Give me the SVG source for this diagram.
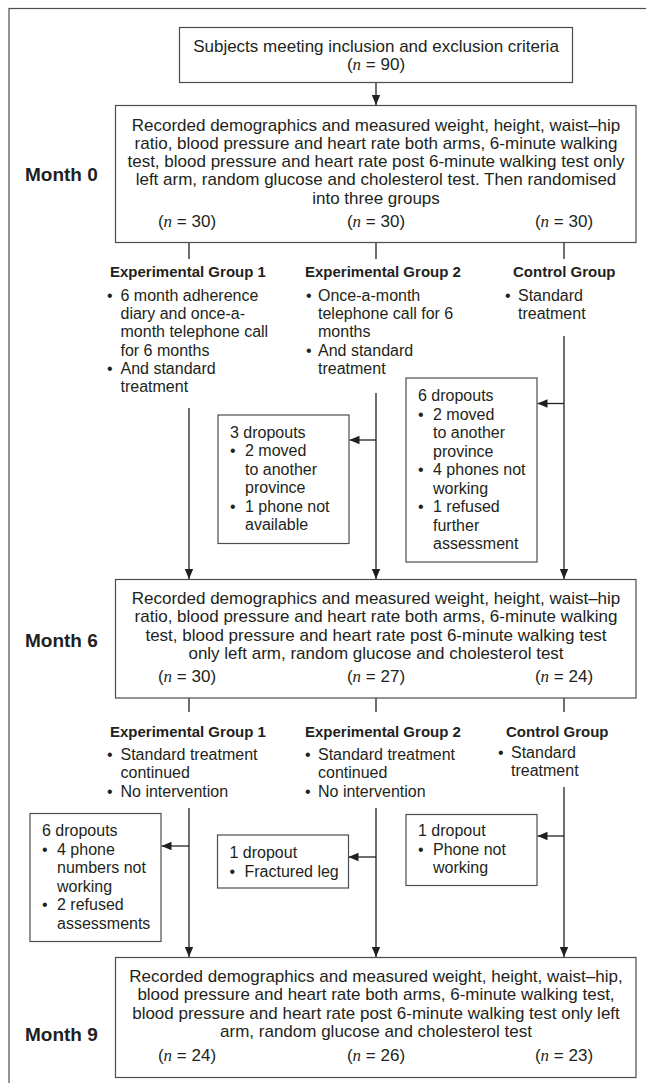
<svg xmlns="http://www.w3.org/2000/svg" width="646" height="1083" viewBox="0 0 646 1083">
<defs>
<style>
text{font-family:"Liberation Sans",Arial,sans-serif;font-size:16px;fill:#231f20}
.c{text-anchor:middle;font-size:17px}
.b{font-weight:bold;font-size:15px}
.m{font-weight:bold;font-size:19px}
.box{fill:#fff;stroke:#4d4d4d;stroke-width:1.2}
.ln{fill:none;stroke:#231f20;stroke-width:1.3}
.i{font-family:"Liberation Serif",serif;font-style:italic}
</style>
<marker id="ah" markerUnits="userSpaceOnUse" markerWidth="10" markerHeight="10" viewBox="0 0 10 10" refX="10" refY="5" orient="auto">
<path d="M0,0.8 L10,5 L0,9.2 Z" fill="#231f20"/>
</marker>
</defs>
<rect x="9" y="8.5" width="660" height="1100" fill="none" stroke="#4d4d4d" stroke-width="1.2"/>

<g id="connectors">
<line class="ln" x1="376" y1="82.5" x2="376" y2="105" marker-end="url(#ah)"/>
<line class="ln" x1="189" y1="242.5" x2="189" y2="259"/>
<line class="ln" x1="376" y1="242.5" x2="376" y2="259"/>
<line class="ln" x1="564" y1="242.5" x2="564" y2="259"/>
<line class="ln" x1="189" y1="408" x2="189" y2="579" marker-end="url(#ah)"/>
<line class="ln" x1="376" y1="393" x2="376" y2="579" marker-end="url(#ah)"/>
<line class="ln" x1="564" y1="336" x2="564" y2="579" marker-end="url(#ah)"/>
<line class="ln" x1="376" y1="440" x2="349.5" y2="440" marker-end="url(#ah)"/>
<line class="ln" x1="564" y1="403.5" x2="537.5" y2="403.5" marker-end="url(#ah)"/>
<line class="ln" x1="189" y1="698" x2="189" y2="712"/>
<line class="ln" x1="376" y1="698" x2="376" y2="712"/>
<line class="ln" x1="564" y1="698" x2="564" y2="712"/>
<line class="ln" x1="189" y1="808" x2="189" y2="957" marker-end="url(#ah)"/>
<line class="ln" x1="376" y1="808" x2="376" y2="957" marker-end="url(#ah)"/>
<line class="ln" x1="564" y1="787" x2="564" y2="957" marker-end="url(#ah)"/>
<line class="ln" x1="189" y1="846" x2="161.5" y2="846" marker-end="url(#ah)"/>
<line class="ln" x1="376" y1="857" x2="348.5" y2="857" marker-end="url(#ah)"/>
<line class="ln" x1="564" y1="836" x2="537.5" y2="836" marker-end="url(#ah)"/>
</g>

<g id="start">
<rect class="box" x="179.5" y="27.5" width="393" height="55"/>
<text class="c" x="376" y="51.5">Subjects meeting inclusion and exclusion criteria</text>
<text class="c" x="376" y="69.5">(<tspan class="i">n</tspan> = 90)</text>
</g>

<g id="month0">
<text class="m" x="25" y="181">Month 0</text>
<rect class="box" x="115.5" y="105.5" width="520.5" height="137"/>
<text class="c" x="376" y="130.5">Recorded demographics and measured weight, height, waist–hip</text>
<text class="c" x="376" y="148.8">ratio, blood pressure and heart rate both arms, 6-minute walking</text>
<text class="c" x="376" y="167.1">test, blood pressure and heart rate post 6-minute walking test only</text>
<text class="c" x="376" y="185.4">left arm, random glucose and cholesterol test. Then randomised</text>
<text class="c" x="376" y="203.7">into three groups</text>
<text class="c" x="187" y="226.5">(<tspan class="i">n</tspan> = 30)</text>
<text class="c" x="376" y="226.5">(<tspan class="i">n</tspan> = 30)</text>
<text class="c" x="564" y="226.5">(<tspan class="i">n</tspan> = 30)</text>
</g>

<g id="eg1-a">
<text class="b" x="110" y="277">Experimental Group 1</text>
<text x="107" y="300.5">•</text><text x="120.5" y="300.5">6 month adherence</text>
<text x="120.5" y="319">diary and once-a-</text>
<text x="120.5" y="337.3">month telephone call</text>
<text x="120.5" y="355.7">for 6 months</text>
<text x="107" y="374">•</text><text x="120.5" y="374">And standard</text>
<text x="120.5" y="392.3">treatment</text>
</g>

<g id="eg2-a">
<text class="b" x="305" y="277">Experimental Group 2</text>
<text x="306" y="300.5">•</text><text x="318" y="300.5">Once-a-month</text>
<text x="318" y="319">telephone call for 6</text>
<text x="318" y="337.3">months</text>
<text x="306" y="355.7">•</text><text x="318" y="355.7">And standard</text>
<text x="318" y="374">treatment</text>
</g>

<g id="cg-a">
<text class="b" x="513" y="277">Control Group</text>
<text x="505" y="300.5">•</text><text x="518" y="300.5">Standard</text>
<text x="518" y="319">treatment</text>
</g>

<g id="drop-eg2-a">
<rect class="box" x="218" y="415" width="131" height="128.5"/>
<text x="230" y="437.5">3 dropouts</text>
<text x="230" y="456">•</text><text x="245" y="456">2 moved</text>
<text x="245" y="474.5">to another</text>
<text x="245" y="493">province</text>
<text x="230" y="511.5">•</text><text x="245" y="511.5">1 phone not</text>
<text x="245" y="530">available</text>
</g>

<g id="drop-cg-a">
<rect class="box" x="406" y="378" width="131" height="184"/>
<text x="418" y="401">6 dropouts</text>
<text x="418" y="419.5">•</text><text x="433" y="419.5">2 moved</text>
<text x="433" y="438">to another</text>
<text x="433" y="456.5">province</text>
<text x="418" y="475">•</text><text x="433" y="475">4 phones not</text>
<text x="433" y="493.5">working</text>
<text x="418" y="512">•</text><text x="433" y="512">1 refused</text>
<text x="433" y="530.5">further</text>
<text x="433" y="549">assessment</text>
</g>

<g id="month6">
<text class="m" x="25" y="647">Month 6</text>
<rect class="box" x="115.5" y="579.5" width="520.5" height="118.5"/>
<text class="c" x="376" y="604">Recorded demographics and measured weight, height, waist–hip</text>
<text class="c" x="376" y="622.3">ratio, blood pressure and heart rate both arms, 6-minute walking</text>
<text class="c" x="376" y="640.6">test, blood pressure and heart rate post 6-minute walking test</text>
<text class="c" x="376" y="659">only left arm, random glucose and cholesterol test</text>
<text class="c" x="187" y="682">(<tspan class="i">n</tspan> = 30)</text>
<text class="c" x="376" y="682">(<tspan class="i">n</tspan> = 27)</text>
<text class="c" x="564" y="682">(<tspan class="i">n</tspan> = 24)</text>
</g>

<g id="eg1-b">
<text class="b" x="110" y="737">Experimental Group 1</text>
<text x="107" y="760">•</text><text x="120.5" y="760">Standard treatment</text>
<text x="120.5" y="778.3">continued</text>
<text x="107" y="796.6">•</text><text x="120.5" y="796.6">No intervention</text>
</g>

<g id="eg2-b">
<text class="b" x="305" y="737">Experimental Group 2</text>
<text x="305" y="760">•</text><text x="318" y="760">Standard treatment</text>
<text x="318" y="778.3">continued</text>
<text x="305" y="796.6">•</text><text x="318" y="796.6">No intervention</text>
</g>

<g id="cg-b">
<text class="b" x="506" y="737">Control Group</text>
<text x="498" y="758">•</text><text x="511" y="758">Standard</text>
<text x="511" y="776.3">treatment</text>
</g>

<g id="drop-eg1-b">
<rect class="box" x="30" y="813.5" width="131" height="128"/>
<text x="42" y="836">6 dropouts</text>
<text x="42" y="854.5">•</text><text x="57" y="854.5">4 phone</text>
<text x="57" y="873">numbers not</text>
<text x="57" y="891.5">working</text>
<text x="42" y="910">•</text><text x="57" y="910">2 refused</text>
<text x="57" y="928.5">assessments</text>
</g>

<g id="drop-eg2-b">
<rect class="box" x="217.5" y="835" width="131" height="53"/>
<text x="229.5" y="858">1 dropout</text>
<text x="229.5" y="876.5">•</text><text x="244.5" y="876.5">Fractured leg</text>
</g>

<g id="drop-cg-b">
<rect class="box" x="406" y="814.5" width="131" height="71"/>
<text x="418" y="836">1 dropout</text>
<text x="418" y="854.5">•</text><text x="433" y="854.5">Phone not</text>
<text x="433" y="873">working</text>
</g>

<g id="month9">
<text class="m" x="25" y="1041">Month 9</text>
<rect class="box" x="115.5" y="957.5" width="520.5" height="120"/>
<text class="c" x="376" y="982">Recorded demographics and measured weight, height, waist–hip,</text>
<text class="c" x="376" y="1000.3">blood pressure and heart rate both arms, 6-minute walking test,</text>
<text class="c" x="376" y="1018.6">blood pressure and heart rate post 6-minute walking test only left</text>
<text class="c" x="376" y="1037">arm, random glucose and cholesterol test</text>
<text class="c" x="187" y="1061">(<tspan class="i">n</tspan> = 24)</text>
<text class="c" x="376" y="1061">(<tspan class="i">n</tspan> = 26)</text>
<text class="c" x="564" y="1061">(<tspan class="i">n</tspan> = 23)</text>
</g>
</svg>
